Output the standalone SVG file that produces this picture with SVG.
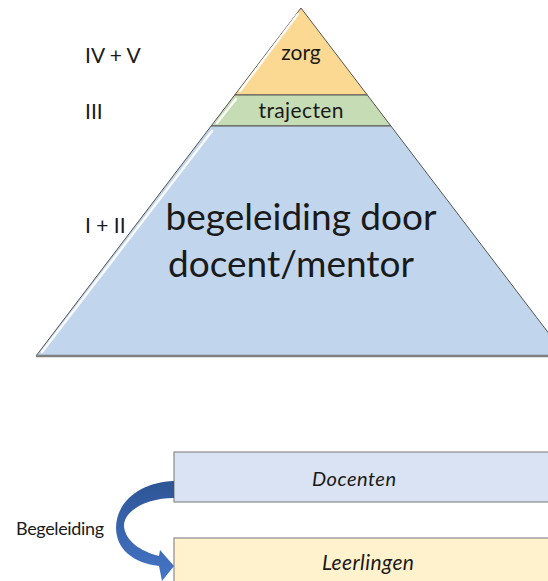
<svg xmlns="http://www.w3.org/2000/svg" width="548" height="581" viewBox="0 0 548 581">
<style>
.t{font-family:Lato,"Liberation Sans",sans-serif;fill:#1a1a1a}
.lbl{font-size:21px}
.layer{stroke:#555;stroke-width:1}
.hl{stroke:#ffffff;stroke-width:2.5;stroke-linecap:round;opacity:0.9}
.box{stroke:#8a8a8a;stroke-width:1.2}
</style>
<defs>
<linearGradient id="ag" x1="0" y1="0" x2="0" y2="1">
<stop offset="0" stop-color="#2d5595"/>
<stop offset="1" stop-color="#4675c8"/>
</linearGradient>
</defs>
<rect width="548" height="581" fill="#ffffff"/>
<g id="level-labels">
<text class="t lbl" x="85" y="63">IV + V</text>
<text class="t lbl" x="85" y="119">III</text>
<text class="t lbl" x="85" y="233">I + II</text>
</g>
<g id="zorg">
<polygon class="layer" points="301,8 367.3,95 234.7,95" fill="#fbd993"/>
<line class="hl" x1="298" y1="14" x2="240" y2="91"/>
<text class="t" x="301" y="60" font-size="21" text-anchor="middle">zorg</text>
</g>
<g id="trajecten">
<polygon class="layer" points="234.7,95 367.3,95 390.9,126 211.1,126" fill="#c6dcb4"/>
<line class="hl" x1="236" y1="99" x2="217" y2="123"/>
<text class="t" x="301" y="118" font-size="21" text-anchor="middle" textLength="85">trajecten</text>
</g>
<g id="begeleiding-docent">
<polygon points="211.1,126 390.9,126 566,356 36,356" fill="#c1d6ed" stroke="#555" stroke-width="1"/>
<line class="hl" x1="212" y1="131" x2="42" y2="352"/>
<line x1="36" y1="356" x2="548" y2="356" stroke="#7f7f7f" stroke-width="2.5"/>
<text class="t" x="301" y="230" font-size="37" text-anchor="middle" textLength="271">begeleiding door</text>
<text class="t" x="291" y="277" font-size="37" text-anchor="middle" textLength="246">docent/mentor</text>
</g>
<g id="docenten">
<rect class="box" x="174" y="452" width="380" height="50" fill="#dae3f3"/>
<text class="t" x="354" y="486" font-size="20" font-style="italic" text-anchor="middle" textLength="84">Docenten</text>
</g>
<g id="leerlingen">
<rect class="box" x="174" y="538" width="380" height="50" fill="#fff2cc"/>
<text class="t" x="368" y="570" font-size="21" font-style="italic" text-anchor="middle" textLength="92">Leerlingen</text>
</g>
<g id="connectors">
<path d="M174,481 C142,482 117,500 116,527 C116,550 134,563 159,566 L162,581 L174,566 L160,550 L159,556 C140,551 126,541 124,527 C123,511 146,498 174,498 Z" fill="url(#ag)"/>
<text class="t" x="16" y="535" font-size="18" textLength="88">Begeleiding</text>
</g>
</svg>
